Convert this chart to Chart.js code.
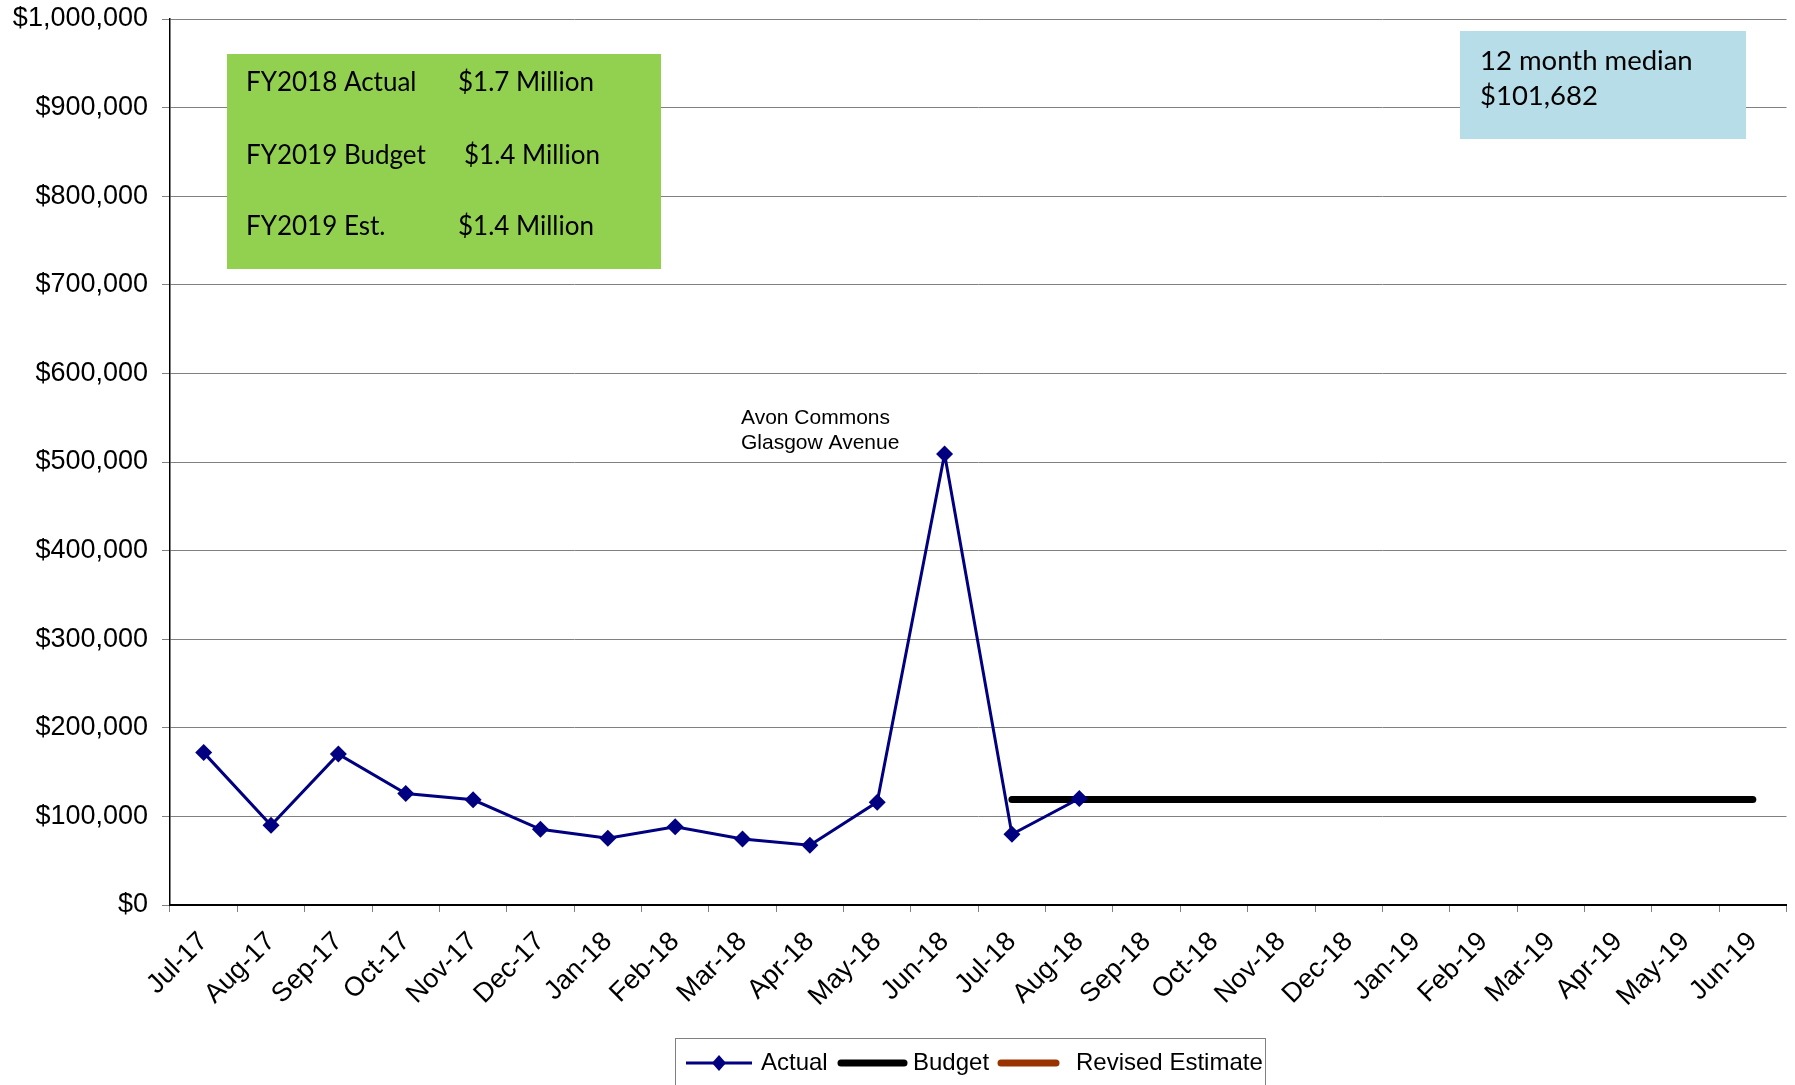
<!DOCTYPE html>
<html>
<head>
<meta charset="utf-8">
<script src="https://cdn.jsdelivr.net/npm/chart.js@4/dist/chart.umd.min.js"></script>
<style>
html,body{margin:0;padding:0;background:#fff;}
#c{display:block;}
</style>
</head>
<body>
<canvas id="c" width="1795" height="1085"></canvas>
<script>
const categories = ["Jul-17","Aug-17","Sep-17","Oct-17","Nov-17","Dec-17","Jan-18","Feb-18","Mar-18","Apr-18","May-18","Jun-18",
                    "Jul-18","Aug-18","Sep-18","Oct-18","Nov-18","Dec-18","Jan-19","Feb-19","Mar-19","Apr-19","May-19","Jun-19"];
const actualValues = [172000, 90000, 170300, 125800, 118700, 85400, 75300, 88300, 74500, 67400, 116100, 509000,
                      79800, 120200, null, null, null, null, null, null, null, null, null, null];
const budgetValues = [null, null, null, null, null, null, null, null, null, null, null, null,
                      119000, 119000, 119000, 119000, 119000, 119000, 119000, 119000, 119000, 119000, 119000, 119000];
const revisedValues = [null, null, null, null, null, null, null, null, null, null, null, null,
                       null, null, null, null, null, null, null, null, null, null, null, null];
const yTickMin = 0, yTickMax = 1000000, yTickStep = 100000;
const summaryRows = [["FY2018 Actual", "$1.7 Million"], ["FY2019 Budget", "$1.4 Million"], ["FY2019 Est.", "$1.4 Million"]];
const medianLines = ["12 month median", "$101,682"];
const peakNote = ["Avon Commons", "Glasgow Avenue"];
const seriesNames = ["Actual", "Budget", "Revised Estimate"];

const AXIS_FONT = "'Liberation Sans', Arial, sans-serif";
const BOX_FONT = "Lato, 'Open Sans', sans-serif";

const overlay = {
  id: 'overlay',
  afterDraw(chart) {
    const ctx = chart.ctx;
    ctx.save();
    // green summary box
    ctx.fillStyle = '#92D050';
    ctx.fillRect(227, 54, 434, 215);
    ctx.fillStyle = '#000';
    ctx.font = "26px " + BOX_FONT;
    ctx.textBaseline = 'middle';
    ctx.textAlign = 'left';
    const rowY = [83, 156, 227];
    const col2X = [458, 464, 458];
    summaryRows.forEach((r, i) => {
      ctx.fillText(r[0], 246, rowY[i]);
      ctx.fillText(r[1], col2X[i], rowY[i]);
    });
    // blue median box
    ctx.fillStyle = '#B7DEE8';
    ctx.fillRect(1460, 31, 286, 108);
    ctx.fillStyle = '#000';
    ctx.font = "27.5px " + BOX_FONT;
    ctx.fillText(medianLines[0], 1480, 61);
    ctx.fillText(medianLines[1], 1480, 96);
    // peak annotation
    ctx.font = "21px " + AXIS_FONT;
    ctx.fillText(peakNote[0], 741, 418);
    ctx.fillText(peakNote[1], 741, 443);
    // legend
    const lx = 675, ly = 1038, lw = 590, lh = 60;
    ctx.fillStyle = '#fff';
    ctx.fillRect(lx, ly, lw, lh);
    ctx.strokeStyle = '#808080';
    ctx.lineWidth = 1;
    ctx.strokeRect(lx + 0.5, ly + 0.5, lw, lh);
    const cy = 1063;
    ctx.font = "24px " + AXIS_FONT;
    ctx.fillStyle = '#000';
    // Actual
    ctx.strokeStyle = '#000080';
    ctx.lineWidth = 3;
    ctx.beginPath(); ctx.moveTo(686, cy); ctx.lineTo(752, cy); ctx.stroke();
    ctx.fillStyle = '#000080';
    ctx.beginPath(); ctx.moveTo(719, cy - 8); ctx.lineTo(726, cy); ctx.lineTo(719, cy + 8); ctx.lineTo(712, cy); ctx.closePath(); ctx.fill();
    ctx.fillStyle = '#000';
    ctx.fillText(seriesNames[0], 761, cy);
    // Budget
    ctx.strokeStyle = '#000';
    ctx.lineWidth = 7;
    ctx.lineCap = 'round';
    ctx.beginPath(); ctx.moveTo(841, cy); ctx.lineTo(904, cy); ctx.stroke();
    ctx.fillText(seriesNames[1], 913, cy);
    // Revised
    ctx.strokeStyle = '#993300';
    ctx.beginPath(); ctx.moveTo(1001, cy); ctx.lineTo(1056, cy); ctx.stroke();
    ctx.fillText(seriesNames[2], 1076, cy);
    ctx.restore();
  }
};

new Chart(document.getElementById('c'), {
  type: 'line',
  data: {
    labels: categories,
    datasets: [
      {
        label: seriesNames[0], data: actualValues,
        borderColor: '#000080', backgroundColor: '#000080', borderWidth: 3,
        pointStyle: 'rectRot', pointRadius: 8.5, pointBackgroundColor: '#000080', pointBorderColor: '#000080',
        pointBorderWidth: 0, tension: 0, spanGaps: false, order: 1
      },
      {
        label: seriesNames[1], data: budgetValues,
        borderColor: '#000', backgroundColor: '#000', borderWidth: 7, borderCapStyle: 'round',
        pointRadius: 0, tension: 0, order: 2
      },
      {
        label: seriesNames[2], data: revisedValues,
        borderColor: '#993300', backgroundColor: '#993300', borderWidth: 7, borderCapStyle: 'round',
        pointRadius: 0, tension: 0, order: 0
      }
    ]
  },
  options: {
    responsive: false,
    devicePixelRatio: 1,
    animation: false,
    layout: { padding: { left: 0, right: 7, top: 19, bottom: 0 } },
    plugins: { legend: { display: false }, tooltip: { enabled: false } },
    scales: {
      x: {
        offset: true,
        grid: { offset: true, drawOnChartArea: false, drawTicks: true, tickLength: 7, color: '#808080', lineWidth: 1 },
        border: { color: '#000', width: 2 },
        ticks: {
          autoSkip: false, maxRotation: 45, minRotation: 45, padding: 14,
          color: '#000', font: { family: AXIS_FONT, size: 27 }
        },
        afterFit(s) { s.height = 180; s.paddingLeft = 0; s.paddingRight = 0; }
      },
      y: {
        min: yTickMin, max: yTickMax,
        grid: { color: '#808080', lineWidth: 1, tickLength: 8 },
        border: { color: '#000', width: 1.5 },
        ticks: {
          stepSize: yTickStep, padding: 14, color: '#000',
          font: { family: AXIS_FONT, size: 27 },
          callback: v => '$' + Number(v).toLocaleString('en-US')
        },
        afterFit(s) { s.width = 170; s.paddingTop = 0; s.paddingBottom = 0; }
      }
    }
  },
  plugins: [overlay]
});
</script>
</body>
</html>
